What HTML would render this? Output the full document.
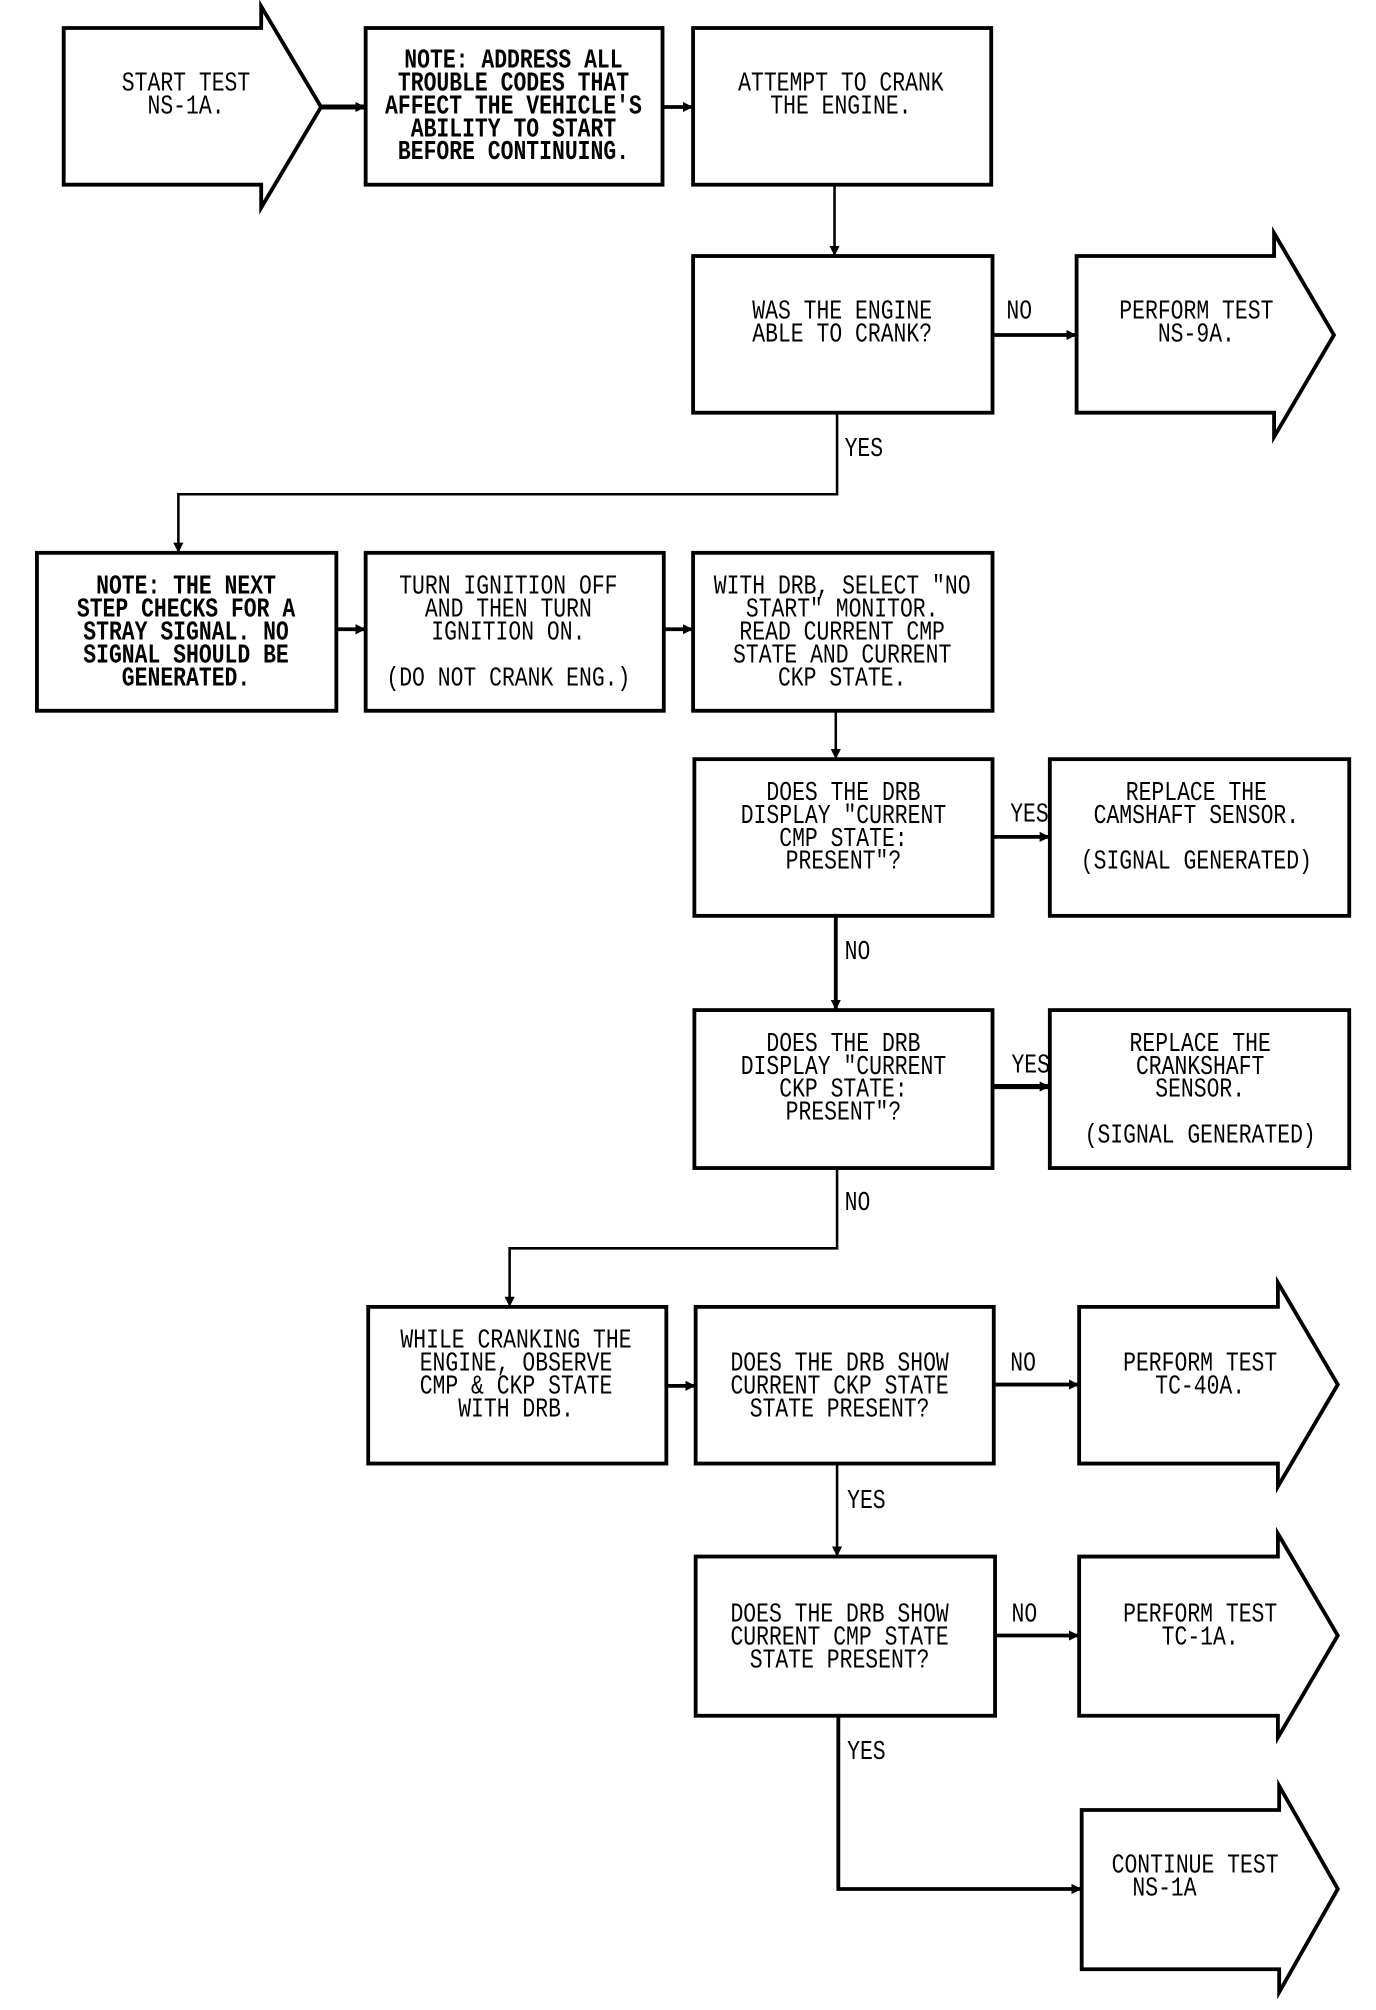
<!DOCTYPE html>
<html><head><meta charset="utf-8"><style>
html,body{margin:0;padding:0;background:#fff;width:1376px;height:2010px;overflow:hidden}
svg{display:block}
text{font-family:"Liberation Mono",monospace;font-size:21px;fill:#000}
</style></head><body>
<svg width="1376" height="2010" viewBox="0 0 1080 1578" preserveAspectRatio="none" xmlns="http://www.w3.org/2000/svg">
<defs><marker id="a" markerWidth="8" markerHeight="8" refX="7" refY="4" orient="auto" markerUnits="userSpaceOnUse"><path d="M0,0 L8,4 L0,8 z" fill="#000"/></marker></defs>
<g fill="none" stroke="#000" stroke-width="3">
<!-- arrows shapes -->
<path d="M50,22 H205 V5 L252,84 L205,163 V145 H50 Z"/>
<path d="M845,201 H1000 V183 L1047,263 L1000,343 V324 H845 Z"/>
<path d="M847,1026 H1003 V1007 L1050,1087 L1003,1167 V1149 H847 Z"/>
<path d="M847,1222 H1003 V1204 L1050,1284 L1003,1364 V1347 H847 Z"/>
<path d="M849,1421 H1004 V1402 L1050,1483 L1004,1564 V1546 H849 Z"/>
<!-- boxes -->
<rect x="287" y="22" width="233" height="123"/>
<rect x="544" y="22" width="234" height="123"/>
<rect x="544" y="201" width="235" height="123"/>
<rect x="29" y="434" width="235" height="124"/>
<rect x="287" y="434" width="234" height="124"/>
<rect x="544" y="434" width="235" height="124"/>
<rect x="545" y="596" width="234" height="123"/>
<rect x="824" y="596" width="235" height="123"/>
<rect x="545" y="793" width="234" height="124"/>
<rect x="824" y="793" width="235" height="124"/>
<rect x="289" y="1026" width="234" height="123"/>
<rect x="546" y="1026" width="234" height="123"/>
<rect x="546" y="1222" width="235" height="125"/>
</g>
<g fill="none" stroke="#000" stroke-width="2">
<path d="M252,84 H286" stroke-width="4" marker-end="url(#a)"/>
<path d="M520,84 H543" stroke-width="3" marker-end="url(#a)"/>
<path d="M655,145 V200" marker-end="url(#a)"/>
<path d="M779,263 H844" stroke-width="3" marker-end="url(#a)"/>
<path d="M657,324 V388 H140 V433" marker-end="url(#a)"/>
<path d="M264,494 H286" stroke-width="3" marker-end="url(#a)"/>
<path d="M521,494 H543" stroke-width="3" marker-end="url(#a)"/>
<path d="M656,558 V595" marker-end="url(#a)"/>
<path d="M779,657 H823" stroke-width="3" marker-end="url(#a)"/>
<path d="M656,719 V792" stroke-width="3" marker-end="url(#a)"/>
<path d="M779,853 H823" stroke-width="4" marker-end="url(#a)"/>
<path d="M657,917 V980 H400 V1025" marker-end="url(#a)"/>
<path d="M523,1088 H545" stroke-width="3" marker-end="url(#a)"/>
<path d="M780,1087 H846" stroke-width="3" marker-end="url(#a)"/>
<path d="M657,1149 V1221" marker-end="url(#a)"/>
<path d="M781,1284 H846" stroke-width="3" marker-end="url(#a)"/>
<path d="M658,1347 V1483 H848" stroke-width="3" marker-end="url(#a)"/>
</g>
<g text-anchor="middle">
<text transform="translate(146,71) scale(.8,1)"><tspan x="0">START TEST</tspan><tspan x="0" dy="18">NS-1A.</tspan></text>
<text transform="translate(403,53) scale(.8,1)" font-weight="bold"><tspan x="0">NOTE: ADDRESS ALL</tspan><tspan x="0" dy="18">TROUBLE CODES THAT</tspan><tspan x="0" dy="18">AFFECT THE VEHICLE'S</tspan><tspan x="0" dy="18">ABILITY TO START</tspan><tspan x="0" dy="18">BEFORE CONTINUING.</tspan></text>
<text transform="translate(660,71) scale(.8,1)"><tspan x="0">ATTEMPT TO CRANK</tspan><tspan x="0" dy="18">THE ENGINE.</tspan></text>
<text transform="translate(661,250) scale(.8,1)"><tspan x="0">WAS THE ENGINE</tspan><tspan x="0" dy="18">ABLE TO CRANK?</tspan></text>
<text transform="translate(800,250) scale(.8,1)">NO</text>
<text transform="translate(939,250) scale(.8,1)"><tspan x="0">PERFORM TEST</tspan><tspan x="0" dy="18">NS-9A.</tspan></text>
<text transform="translate(678,358) scale(.8,1)">YES</text>
<text transform="translate(146,466) scale(.8,1)" font-weight="bold"><tspan x="0">NOTE: THE NEXT</tspan><tspan x="0" dy="18">STEP CHECKS FOR A</tspan><tspan x="0" dy="18">STRAY SIGNAL. NO</tspan><tspan x="0" dy="18">SIGNAL SHOULD BE</tspan><tspan x="0" dy="18">GENERATED.</tspan></text>
<text transform="translate(399,466) scale(.8,1)"><tspan x="0">TURN IGNITION OFF</tspan><tspan x="0" dy="18">AND THEN TURN</tspan><tspan x="0" dy="18">IGNITION ON.</tspan><tspan x="0" dy="36">(DO NOT CRANK ENG.)</tspan></text>
<text transform="translate(661,466) scale(.8,1)"><tspan x="0">WITH DRB, SELECT "NO</tspan><tspan x="0" dy="18">START" MONITOR.</tspan><tspan x="0" dy="18">READ CURRENT CMP</tspan><tspan x="0" dy="18">STATE AND CURRENT</tspan><tspan x="0" dy="18">CKP STATE.</tspan></text>
<text transform="translate(662,628) scale(.8,1)"><tspan x="0">DOES THE DRB</tspan><tspan x="0" dy="18">DISPLAY "CURRENT</tspan><tspan x="0" dy="18">CMP STATE:</tspan><tspan x="0" dy="18">PRESENT"?</tspan></text>
<text transform="translate(808,645) scale(.8,1)">YES</text>
<text transform="translate(939,628) scale(.8,1)"><tspan x="0">REPLACE THE</tspan><tspan x="0" dy="18">CAMSHAFT SENSOR.</tspan><tspan x="0" dy="36">(SIGNAL GENERATED)</tspan></text>
<text transform="translate(673,753) scale(.8,1)">NO</text>
<text transform="translate(662,825) scale(.8,1)"><tspan x="0">DOES THE DRB</tspan><tspan x="0" dy="18">DISPLAY "CURRENT</tspan><tspan x="0" dy="18">CKP STATE:</tspan><tspan x="0" dy="18">PRESENT"?</tspan></text>
<text transform="translate(809,842) scale(.8,1)">YES</text>
<text transform="translate(942,825) scale(.8,1)"><tspan x="0">REPLACE THE</tspan><tspan x="0" dy="18">CRANKSHAFT</tspan><tspan x="0" dy="18">SENSOR.</tspan><tspan x="0" dy="36">(SIGNAL GENERATED)</tspan></text>
<text transform="translate(673,950) scale(.8,1)">NO</text>
<text transform="translate(405,1058) scale(.8,1)"><tspan x="0">WHILE CRANKING THE</tspan><tspan x="0" dy="18">ENGINE, OBSERVE</tspan><tspan x="0" dy="18">CMP &amp; CKP STATE</tspan><tspan x="0" dy="18">WITH DRB.</tspan></text>
<text transform="translate(659,1076) scale(.8,1)"><tspan x="0">DOES THE DRB SHOW</tspan><tspan x="0" dy="18">CURRENT CKP STATE</tspan><tspan x="0" dy="18">STATE PRESENT?</tspan></text>
<text transform="translate(803,1076) scale(.8,1)">NO</text>
<text transform="translate(942,1076) scale(.8,1)"><tspan x="0">PERFORM TEST</tspan><tspan x="0" dy="18">TC-40A.</tspan></text>
<text transform="translate(680,1184) scale(.8,1)">YES</text>
<text transform="translate(659,1273) scale(.8,1)"><tspan x="0">DOES THE DRB SHOW</tspan><tspan x="0" dy="18">CURRENT CMP STATE</tspan><tspan x="0" dy="18">STATE PRESENT?</tspan></text>
<text transform="translate(804,1273) scale(.8,1)">NO</text>
<text transform="translate(942,1273) scale(.8,1)"><tspan x="0">PERFORM TEST</tspan><tspan x="0" dy="18">TC-1A.</tspan></text>
<text transform="translate(680,1381) scale(.8,1)">YES</text>
<text transform="translate(938,1470) scale(.8,1)"><tspan x="0">CONTINUE TEST</tspan><tspan x="-30" dy="18">NS-1A</tspan></text>
</g>
</svg>
</body></html>
